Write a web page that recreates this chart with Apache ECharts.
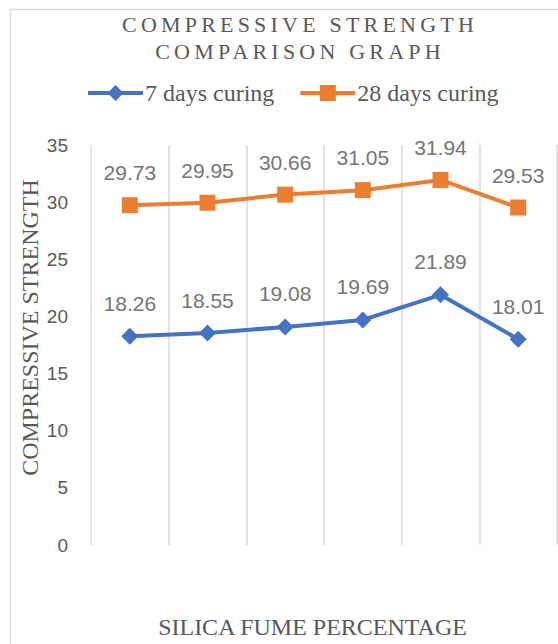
<!DOCTYPE html>
<html>
<head>
<meta charset="utf-8">
<script src="https://cdn.jsdelivr.net/npm/echarts@6/dist/echarts.min.js"></script>
<style>
  html, body { margin: 0; padding: 0; background: #fff; }
  #chart { width: 558px; height: 644px; }
  #chart svg text[style*="TitleSerif"], #chart svg text[font-family*="TitleSerif"] { letter-spacing: 4.2px; }
</style>
</head>
<body>
<div id="chart"></div>
<script>
const titleLines = ['COMPRESSIVE STRENGTH', 'COMPARISON GRAPH'];
const categories = ['1', '2', '3', '4', '5', '6'];
const days7 = [18.26, 18.55, 19.08, 19.69, 21.89, 18.01];
const days28 = [29.73, 29.95, 30.66, 31.05, 31.94, 29.53];
const seriesNames = ['7 days curing', '28 days curing'];
const yTitle = 'COMPRESSIVE STRENGTH';
const xTitle = 'SILICA FUME PERCENTAGE';

const chart = echarts.init(document.getElementById('chart'), null, { renderer: 'svg' });
const serif = '"Liberation Serif", "Times New Roman", serif';
const sans = '"Liberation Sans", Arial, sans-serif';
const labelStyle = { show: true, position: 'top', distance: 14, fontSize: 21, color: '#757575', fontFamily: sans };

chart.setOption({
  backgroundColor: '#fff',
  animation: false,
  graphic: [{
    type: 'rect', left: 8, top: 7, silent: true,
    shape: { width: 549, height: 660 },
    style: { fill: 'none', stroke: '#d9d9d9', lineWidth: 1.5 }
  }],
  title: [
    { text: titleLines[0], left: 295, top: 8, textAlign: 'center',
      textStyle: { fontSize: 22, fontWeight: 'normal', color: '#595959', fontFamily: 'TitleSerif, ' + serif } },
    { text: titleLines[1], left: 295, top: 35, textAlign: 'center',
      textStyle: { fontSize: 22, fontWeight: 'normal', color: '#595959', fontFamily: 'TitleSerif, ' + serif } }
  ],
  legend: {
    data: seriesNames, left: 81, top: 76, itemWidth: 55, itemHeight: 20, itemGap: 24,
    lineStyle: { width: 4 },
    textStyle: { fontSize: 24, color: '#595959', fontFamily: serif, padding: [0, 0, 0, -3] }
  },
  grid: { left: 91, right: 1, top: 145, bottom: 99, containLabel: false },
  xAxis: {
    type: 'category', data: categories, boundaryGap: true,
    axisLine: { show: false }, axisTick: { show: false }, axisLabel: { show: false },
    splitLine: { show: true, lineStyle: { color: '#d9d9d9', width: 1.5 } },
    name: xTitle, nameLocation: 'middle', nameGap: 70, nameMoveOverlap: false,
    nameTextStyle: { fontSize: 24, color: '#595959', fontFamily: serif, padding: [0, 23, 0, 0] }
  },
  yAxis: {
    type: 'value', min: 0, max: 35, interval: 5,
    axisLine: { show: false }, axisTick: { show: false }, splitLine: { show: false },
    axisLabel: { fontSize: 19, color: '#595959', fontFamily: sans, margin: 23 },
    name: yTitle, nameLocation: 'middle', nameGap: 49, nameRotate: 90, nameMoveOverlap: false,
    nameTextStyle: { fontSize: 24, color: '#595959', fontFamily: serif, padding: [0, 0, 0, 35] }
  },
  series: [
    { name: seriesNames[0], type: 'line', data: days7, symbol: 'diamond', symbolSize: 17,
      itemStyle: { color: '#4472C4' }, lineStyle: { color: '#4472C4', width: 4 }, label: labelStyle },
    { name: seriesNames[1], type: 'line', data: days28, symbol: 'rect', symbolSize: 16,
      itemStyle: { color: '#ED7D31' }, lineStyle: { color: '#ED7D31', width: 4 }, label: labelStyle }
  ]
});
</script>
</body>
</html>
